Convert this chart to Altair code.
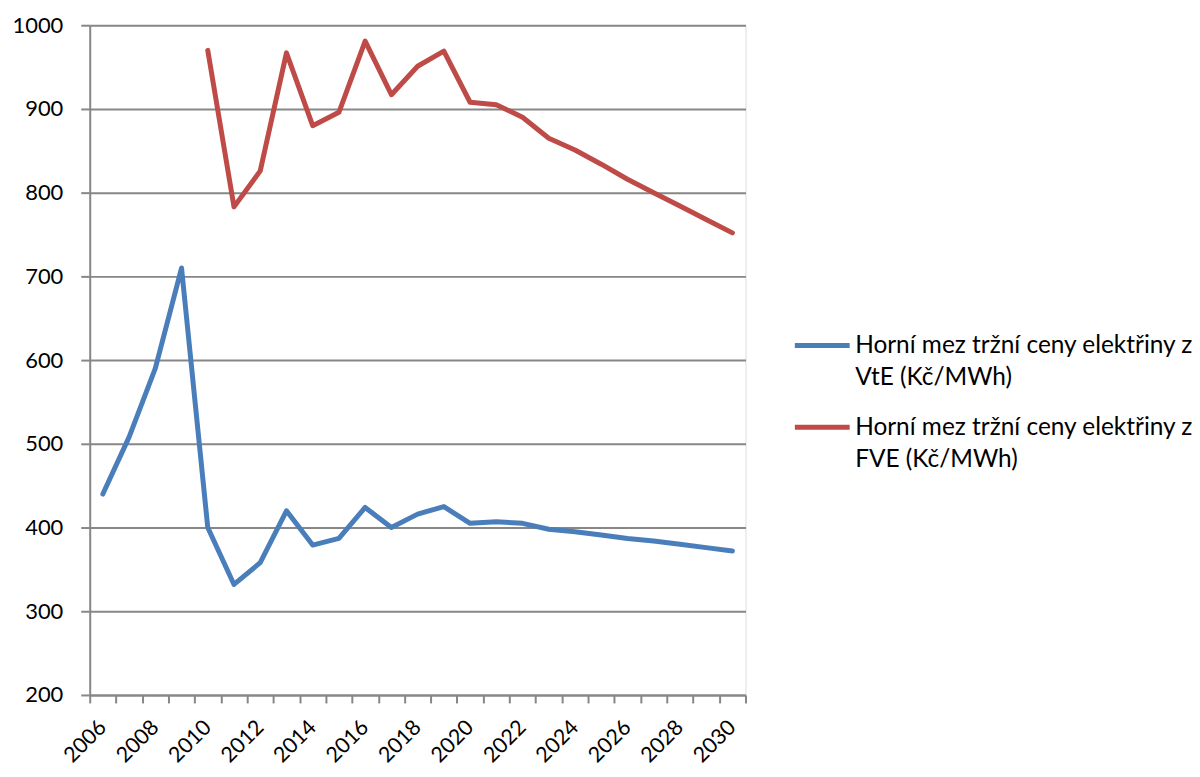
import altair as alt
import pandas as pd

years = list(range(2006, 2031))
vte = [440, 508, 590, 710, 400, 332, 358, 420, 379, 387, 424, 400, 416, 425,
       405, 407, 405, 398, 395, 391, 387, 384, 380, 376, 372]
fve = [None, None, None, None, 970, 783, 826, 967, 880, 896, 981, 917, 951, 969,
       908, 905, 890, 865, 851, 834, 816, 800, 784, 768, 752]
series_names = ["Horní mez tržní ceny elektřiny z VtE (Kč/MWh)",
                "Horní mez tržní ceny elektřiny z FVE (Kč/MWh)"]
colors = ["#4A7EBB", "#BE4B48"]
y_ticks = [200, 300, 400, 500, 600, 700, 800, 900, 1000]

rows = []
for name, vals in zip(series_names, [vte, fve]):
    for yr, v in zip(years, vals):
        rows.append({"year": yr, "value": v, "series": name})
df = pd.DataFrame(rows)

FONT = "Lato"
GRID = "#878787"

chart = alt.Chart(df).mark_line(
    strokeWidth=5, strokeCap="round", strokeJoin="round"
).encode(
    x=alt.X("year:O",
            scale=alt.Scale(type="band", paddingInner=0, paddingOuter=0),
            axis=alt.Axis(title=None, tickBand="extent", labelAngle=-45,
                          labelAlign="right", labelBaseline="middle",
                          labelExpr="datum.value % 2 == 0 ? datum.label : ''",
                          labelOverlap=False, labelPadding=21, labelOffset=0,
                          tickSize=8, tickColor=GRID, tickWidth=2,
                          domainColor=GRID, domainWidth=2, grid=False,
                          labelFont=FONT, labelFontSize=21.5, labelColor="#000")),
    y=alt.Y("value:Q",
            scale=alt.Scale(domain=[200, 1000], nice=False, zero=False),
            axis=alt.Axis(title=None, values=y_ticks, format="d", grid=True,
                          gridColor=GRID, gridWidth=2, tickSize=9,
                          tickColor=GRID, tickWidth=2, domainColor=GRID,
                          domainWidth=2, labelPadding=18,
                          labelFont=FONT, labelFontSize=22, labelColor="#000")),
    color=alt.Color("series:N",
                    scale=alt.Scale(domain=series_names, range=colors),
                    legend=alt.Legend(
                        title=None, orient="none", legendX=705, legendY=299,
                        symbolType="M-1,-0.28L1,-0.28", symbolSize=3025,
                        symbolStrokeWidth=5, labelOffset=3, labelLimit=600,
                        labelBaseline="alphabetic",
                        labelFont=FONT, labelFontSize=24.5, labelColor="#000",
                        rowPadding=15,
                        labelExpr="[substring(datum.label, 0, 32), substring(datum.label, 33)]")),
).properties(
    width=658, height=672,
    autosize=alt.AutoSizeParams(type="none"),
    padding={"left": 82, "top": 16, "right": 448, "bottom": 72},
).configure_view(stroke=None).configure(
    style={"guide-label": {"lineHeight": 32}}
)

chart.save("out.html", embed_options={"renderer": "svg", "actions": False})
